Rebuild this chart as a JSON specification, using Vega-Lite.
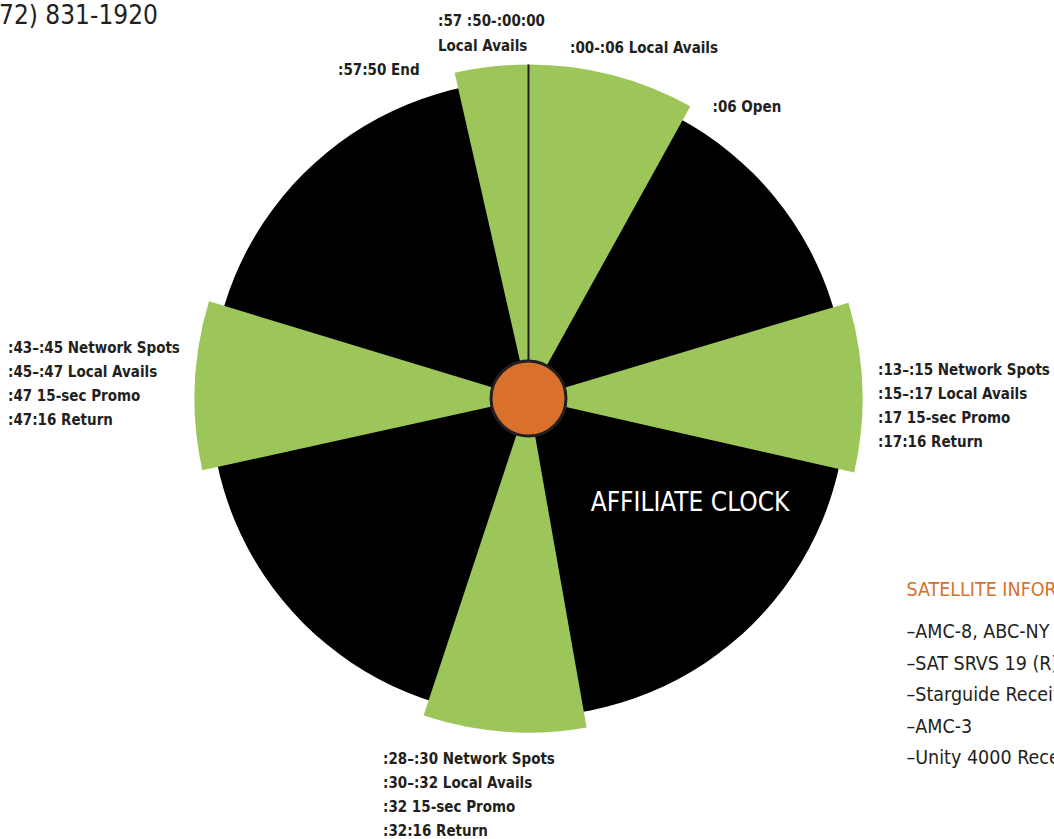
{
  "$schema": "https://vega.github.io/schema/vega-lite/v6.json",
  "width": 1054,
  "height": 839,
  "padding": 0,
  "autosize": {"type": "none"},
  "background": "#ffffff",
  "config": {"view": {"stroke": null}},
  "datasets": {
    "face": [{"start": 0, "end": 60, "part": "hour"}],
    "breaks": [
      {"start": 57.87, "end": 60, "part": "Local Avails"},
      {"start": 0, "end": 4.83, "part": "Local Avails"},
      {"start": 12.22, "end": 17.13, "part": "Network / Local break"},
      {"start": 28.33, "end": 33.05, "part": "Network / Local break"},
      {"start": 42.93, "end": 47.82, "part": "Network / Local break"}
    ],
    "timing": [
      {"x": -90.5, "y": 377.5, "text": ":57 :50-:00:00"},
      {"x": -90.5, "y": 352.5, "text": "Local Avails"},
      {"x": 41.5, "y": 350.5, "text": ":00-:06 Local Avails"},
      {"x": -190.5, "y": 328.5, "text": ":57:50 End"},
      {"x": 184, "y": 291.5, "text": ":06 Open"},
      {"x": -520.5, "y": 50.5, "text": ":43–:45 Network Spots"},
      {"x": -520.5, "y": 26.5, "text": ":45–:47 Local Avails"},
      {"x": -520.5, "y": 2.5, "text": ":47 15-sec Promo"},
      {"x": -520.5, "y": -21.5, "text": ":47:16 Return"},
      {"x": 349.5, "y": 28.5, "text": ":13–:15 Network Spots"},
      {"x": 349.5, "y": 4.5, "text": ":15–:17 Local Avails"},
      {"x": 349.5, "y": -19.5, "text": ":17 15-sec Promo"},
      {"x": 349.5, "y": -43.5, "text": ":17:16 Return"},
      {"x": -145.5, "y": -360.5, "text": ":28–:30 Network Spots"},
      {"x": -145.5, "y": -384.5, "text": ":30–:32 Local Avails"},
      {"x": -145.5, "y": -408.5, "text": ":32 15-sec Promo"},
      {"x": -145.5, "y": -432, "text": ":32:16 Return"}
    ],
    "title": [{"x": 161.5, "y": -104, "text": "AFFILIATE CLOCK"}],
    "phone": [{"x": -529.5, "y": 383, "text": "72) 831-1920"}],
    "satHeader": [{"x": 378, "y": -191.5, "text": "SATELLITE INFORMATION"}],
    "satItems": [
      {"x": 378, "y": -233.5, "text": "–AMC-8, ABC-NY"},
      {"x": 378, "y": -265, "text": "–SAT SRVS 19 (R)"},
      {"x": 378, "y": -296.5, "text": "–Starguide Receiver"},
      {"x": 378, "y": -328, "text": "–AMC-3"},
      {"x": 378, "y": -359.5, "text": "–Unity 4000 Receiver"}
    ]
  },
  "layer": [
    {
      "data": {"name": "face"},
      "mark": {"type": "arc", "radius": 318, "fill": "#000000"},
      "encoding": {
        "x": {"datum": 0, "type": "quantitative", "scale": {"domain": [-528.5, 525.5], "nice": false, "zero": false}, "axis": null},
        "y": {"datum": 0, "type": "quantitative", "scale": {"domain": [-440.5, 398.5], "nice": false, "zero": false}, "axis": null},
        "theta": {"field": "start", "type": "quantitative", "scale": {"domain": [0, 60], "range": [0, 6.283185307179586]}},
        "theta2": {"field": "end"}
      }
    },
    {
      "data": {"name": "breaks"},
      "mark": {"type": "arc", "radius": 334, "fill": "#9DC65A"},
      "encoding": {
        "x": {"datum": 0, "type": "quantitative", "scale": {"domain": [-528.5, 525.5], "nice": false, "zero": false}, "axis": null},
        "y": {"datum": 0, "type": "quantitative", "scale": {"domain": [-440.5, 398.5], "nice": false, "zero": false}, "axis": null},
        "theta": {"field": "start", "type": "quantitative", "scale": {"domain": [0, 60], "range": [0, 6.283185307179586]}},
        "theta2": {"field": "end"}
      }
    },
    {
      "data": {"name": "face"},
      "mark": {"type": "rule", "color": "#231F20", "strokeWidth": 2},
      "encoding": {
        "x": {"datum": 0, "type": "quantitative", "scale": {"domain": [-528.5, 525.5], "nice": false, "zero": false}, "axis": null},
        "y": {"datum": 0, "type": "quantitative", "scale": {"domain": [-440.5, 398.5], "nice": false, "zero": false}, "axis": null},
        "y2": {"datum": 334}
      }
    },
    {
      "data": {"name": "face"},
      "mark": {"type": "point", "shape": "circle", "size": 5625, "filled": true, "fill": "#D9712C", "stroke": "#231F20", "strokeWidth": 3, "opacity": 1},
      "encoding": {
        "x": {"datum": 0, "type": "quantitative", "scale": {"domain": [-528.5, 525.5], "nice": false, "zero": false}, "axis": null},
        "y": {"datum": 0, "type": "quantitative", "scale": {"domain": [-440.5, 398.5], "nice": false, "zero": false}, "axis": null}
      }
    },
    {
      "data": {"name": "timing"},
      "mark": {"type": "text", "align": "left", "baseline": "middle", "font": "DejaVu Sans Condensed, Liberation Sans, sans-serif", "fontWeight": "bold", "fontSize": 15, "color": "#231F20"},
      "encoding": {
        "x": {"field": "x", "type": "quantitative", "scale": {"domain": [-528.5, 525.5], "nice": false, "zero": false}, "axis": null},
        "y": {"field": "y", "type": "quantitative", "scale": {"domain": [-440.5, 398.5], "nice": false, "zero": false}, "axis": null},
        "text": {"field": "text"}
      }
    },
    {
      "data": {"name": "title"},
      "mark": {"type": "text", "align": "center", "baseline": "middle", "font": "DejaVu Sans Condensed, Liberation Sans, sans-serif", "fontSize": 26, "color": "#FFFFFF"},
      "encoding": {
        "x": {"field": "x", "type": "quantitative", "scale": {"domain": [-528.5, 525.5], "nice": false, "zero": false}, "axis": null},
        "y": {"field": "y", "type": "quantitative", "scale": {"domain": [-440.5, 398.5], "nice": false, "zero": false}, "axis": null},
        "text": {"field": "text"}
      }
    },
    {
      "data": {"name": "phone"},
      "mark": {"type": "text", "align": "left", "baseline": "middle", "font": "DejaVu Sans Condensed, Liberation Sans, sans-serif", "fontSize": 26, "color": "#231F20"},
      "encoding": {
        "x": {"field": "x", "type": "quantitative", "scale": {"domain": [-528.5, 525.5], "nice": false, "zero": false}, "axis": null},
        "y": {"field": "y", "type": "quantitative", "scale": {"domain": [-440.5, 398.5], "nice": false, "zero": false}, "axis": null},
        "text": {"field": "text"}
      }
    },
    {
      "data": {"name": "satHeader"},
      "mark": {"type": "text", "align": "left", "baseline": "middle", "font": "DejaVu Sans Condensed, Liberation Sans, sans-serif", "fontSize": 19.5, "color": "#D9712C"},
      "encoding": {
        "x": {"field": "x", "type": "quantitative", "scale": {"domain": [-528.5, 525.5], "nice": false, "zero": false}, "axis": null},
        "y": {"field": "y", "type": "quantitative", "scale": {"domain": [-440.5, 398.5], "nice": false, "zero": false}, "axis": null},
        "text": {"field": "text"}
      }
    },
    {
      "data": {"name": "satItems"},
      "mark": {"type": "text", "align": "left", "baseline": "middle", "font": "DejaVu Sans Condensed, Liberation Sans, sans-serif", "fontSize": 19.5, "color": "#231F20"},
      "encoding": {
        "x": {"field": "x", "type": "quantitative", "scale": {"domain": [-528.5, 525.5], "nice": false, "zero": false}, "axis": null},
        "y": {"field": "y", "type": "quantitative", "scale": {"domain": [-440.5, 398.5], "nice": false, "zero": false}, "axis": null},
        "text": {"field": "text"}
      }
    }
  ]
}
